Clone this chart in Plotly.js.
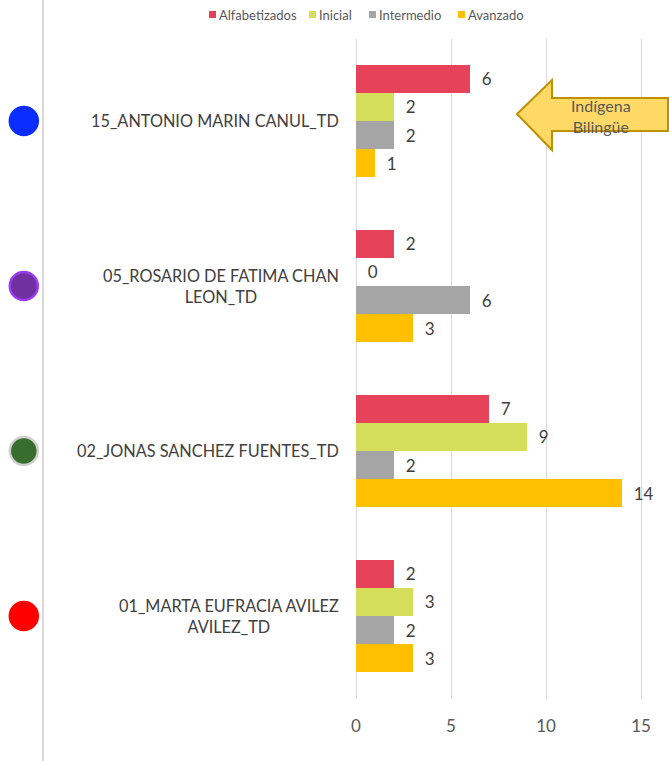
<!DOCTYPE html>
<html><head><meta charset="utf-8">
<script src="https://cdn.plot.ly/plotly-3.0.1.min.js"></script>
<style>html,body{margin:0;padding:0;background:#fff}</style>
</head><body><div id="chart" style="width:669px;height:761px"></div>
<script>
// ---- data ----
const categories = ["15_ANTONIO MARIN CANUL_TD", "05_ROSARIO DE FATIMA CHAN LEON_TD", "02_JONAS SANCHEZ FUENTES_TD", "01_MARTA EUFRACIA AVILEZ AVILEZ_TD"];
const categoryLabels = ["15_ANTONIO MARIN CANUL_TD", "05_ROSARIO DE FATIMA CHAN<br>LEON_TD", "02_JONAS SANCHEZ FUENTES_TD", "01_MARTA EUFRACIA AVILEZ<br>AVILEZ_TD"];
const seriesNames = ["Alfabetizados", "Inicial", "Intermedio", "Avanzado"];
const alfabetizados = [6, 2, 7, 2];
const inicial = [2, 0, 9, 3];
const intermedio = [2, 6, 2, 2];
const avanzado = [1, 3, 14, 3];
const xTicks = [0, 5, 10, 15];
const dotColors = ["#0A2EFF", "#7030A0", "#376E2E", "#FF0000"];
const dotLines = ["#0A2EFF", "#9B3BF2", "#D0D0D0", "#FF0000"];
const calloutText = "Indígena<br>Bilingüe";

// ---- layout helpers ----
const W = 669, H = 761;
const px = x => x / W;
const py = y => 1 - y / H;
const FONT = "Lato, 'Open Sans', sans-serif";
const barColors = ["#E6435A", "#D5DE5A", "#A5A5A5", "#FFC000"];
const seriesValues = [alfabetizados, inicial, intermedio, avanzado];
const legendX = [209, 309, 369, 458];

const traces = seriesNames.map((name, i) => ({
  type: "bar", orientation: "h", name: name,
  x: seriesValues[i], y: categories,
  marker: {color: barColors[i]},
  texttemplate: "\u00a0\u00a0%{x}",
  textposition: "outside", constraintext: "none", cliponaxis: false,
  textfont: {size: 17, color: "#404040", family: FONT},
  hoverinfo: "skip", showlegend: false
}));

traces.push({
  type: "scatter", mode: "markers", x: [0, 0, 0, 0], y: categories,
  xaxis: "x2", yaxis: "y", showlegend: false, hoverinfo: "skip", cliponaxis: false,
  marker: {size: 28, color: dotColors, line: {color: dotLines, width: 2.5}}
});

const annotations = categoryLabels.map((t, i) => ({
  xref: "paper", yref: "y", x: px(341), y: categories[i], xanchor: "right", yanchor: "middle",
  text: t, align: "center", showarrow: false,
  font: {size: 16.3, color: "#404040", family: FONT}
}));
annotations.push({
  xref: "paper", yref: "paper", x: px(601), y: py(116), xanchor: "center", yanchor: "middle",
  text: calloutText, align: "center", showarrow: false,
  font: {size: 16, color: "#595959", family: FONT}
});

const shapes = [
  {type: "line", xref: "paper", yref: "paper", x0: px(43), x1: px(43), y0: 0, y1: 1,
   line: {color: "#D9D9D9", width: 2}}
];
const arrowPts = [[517,114],[552,80],[552,98],[668,98],[668,131],[552,131],[552,150]];
const arrowPath = "M " + arrowPts.map(p => px(p[0]).toFixed(5) + "," + py(p[1]).toFixed(5)).join(" L ") + " Z";
shapes.push({type: "path", xref: "paper", yref: "paper", path: arrowPath,
  fillcolor: "#FFD966", line: {color: "#BF9000", width: 2}});

// legend (drawn compactly)
seriesNames.forEach((name, i) => {
  shapes.push({type: "rect", xref: "paper", yref: "paper",
    x0: px(legendX[i]), x1: px(legendX[i] + 7), y0: py(18), y1: py(11),
    fillcolor: barColors[i], line: {width: 0}});
  annotations.push({xref: "paper", yref: "paper", x: px(legendX[i] + 8), y: py(14.5),
    xanchor: "left", yanchor: "middle", text: name, showarrow: false,
    font: {size: 13, color: "#595959", family: FONT}});
});

const layout = {
  width: W, height: H, autosize: false,
  margin: {l: 0, r: 0, t: 0, b: 0},
  paper_bgcolor: "#fff", plot_bgcolor: "rgba(0,0,0,0)",
  font: {family: FONT, color: "#595959"},
  barmode: "group", bargap: 0.32, bargroupgap: 0,
  xaxis: {
    domain: [px(356), 1], range: [0, (W - 356) / 19],
    tickvals: xTicks, ticktext: xTicks.map(String),
    showgrid: true, gridcolor: "#D9D9D9", gridwidth: 1,
    zeroline: true, zerolinecolor: "#D9D9D9", zerolinewidth: 1,
    showline: false, ticks: "outside", ticklen: 12, tickcolor: "rgba(0,0,0,0)",
    tickfont: {size: 17, color: "#595959", family: FONT}, fixedrange: true
  },
  xaxis2: {domain: [0, px(50)], range: [-1, 1.1], visible: false, fixedrange: true},
  yaxis: {
    type: "category", domain: [py(698.5), py(38.5)], range: [3.5, -0.5],
    showticklabels: false, showgrid: false, zeroline: false, showline: false, ticks: "", fixedrange: true
  },
  shapes: shapes,
  annotations: annotations,
  showlegend: false
};

Plotly.newPlot("chart", traces, layout, {displayModeBar: false, staticPlot: true});
</script>
</body></html>
